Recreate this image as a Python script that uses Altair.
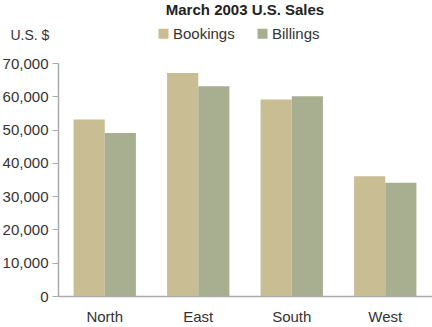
import altair as alt
import pandas as pd

regions = ["North", "East", "South", "West"]
series = ["Bookings", "Billings"]
bookings = [53000, 67000, 59000, 36000]
billings = [49000, 63000, 60000, 34000]
colors = ["#C9BD93", "#A8AF91"]

rows = []
for r, b, bl in zip(regions, bookings, billings):
    rows.append({"Region": r, "Series": "Bookings", "Value": b})
    rows.append({"Region": r, "Series": "Billings", "Value": bl})
df = pd.DataFrame(rows)

FONT = "Liberation Sans"

chart = alt.Chart(df).mark_bar().encode(
    x=alt.X("Region:N", sort=regions,
            scale=alt.Scale(paddingInner=1/3, paddingOuter=1/6),
            axis=alt.Axis(title=None, labelAngle=0, tickSize=0, labelPadding=13,
                          labelFontSize=15, labelColor="#333333", labelFont=FONT,
                          domainColor="#AAAAAA", domainWidth=1.5)),
    xOffset=alt.XOffset("Series:N", sort=series),
    y=alt.Y("Value:Q", scale=alt.Scale(domain=[0, 70000], nice=False),
            axis=alt.Axis(title="U.S. $", titleAngle=0, titleAlign="left", titleBaseline="alphabetic",
                          titleX=-48, titleY=-24, titleFontSize=14, titleFontWeight="normal",
                          titleColor="#333333", titleFont=FONT,
                          values=[0, 10000, 20000, 30000, 40000, 50000, 60000, 70000],
                          format=",d", grid=False, tickSize=6, tickColor="#AAAAAA",
                          labelPadding=4, labelFontSize=15, labelColor="#333333", labelFont=FONT,
                          domainColor="#AAAAAA", domainWidth=1.5)),
    color=alt.Color("Series:N", sort=series,
                    scale=alt.Scale(domain=series, range=colors),
                    legend=alt.Legend(title=None, orient="none", direction="horizontal",
                                      legendX=98, legendY=-37, symbolType="square",
                                      symbolSize=100, symbolStrokeWidth=0, padding=0,
                                      labelFontSize=15, labelColor="#333333", labelFont=FONT,
                                      columnPadding=20, labelOffset=2)),
).properties(
    width=374, height=233,
    padding={"left": 58, "top": 63, "right": 0, "bottom": 31},
    autosize=alt.AutoSizeParams(type="none"),
    title=alt.TitleParams("March 2003 U.S. Sales", fontSize=15, fontWeight="bold",
                          font=FONT, color="#222222", anchor="middle", offset=0,
                          frame="group", dy=-8),
).configure_view(stroke=None)

chart.save("out.html", embed_options={"renderer": "svg", "actions": False})
